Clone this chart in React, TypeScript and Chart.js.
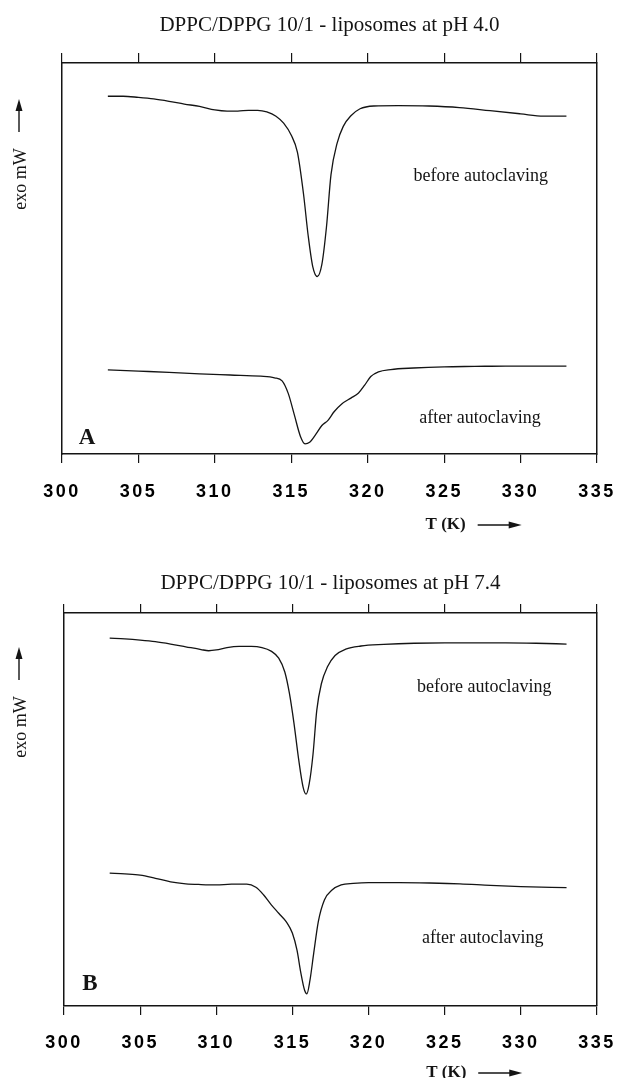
import React, { useEffect, useRef } from 'react';
import { Chart, registerables } from 'chart.js';

Chart.register(...registerables);

// ---------- data ----------
const xTickValues = [300, 305, 310, 315, 320, 325, 330, 335];

const tempBeforePH40 = [303, 304, 305, 306, 307, 308, 309, 310, 310.8, 311.5, 312.2, 312.8, 313.4, 314.0, 314.5, 315.0, 315.4, 315.8, 316.1, 316.4, 316.7, 317.0, 317.3, 317.6, 318.0, 318.4, 318.9, 319.5, 320.4, 322, 324, 326, 328, 330, 331.5, 333];
const heatBeforePH40 = [91.5, 91.5, 91.2, 90.8, 90.2, 89.5, 88.9, 88.0, 87.7, 87.7, 87.9, 87.9, 87.5, 86.4, 84.6, 81.5, 77.2, 66.5, 56, 48, 45.4, 48.5, 58, 71.5, 79.5, 83.8, 86.5, 88.3, 89.0, 89.1, 89.0, 88.6, 87.8, 87.0, 86.4, 86.4];

const tempAfterPH40 = [303, 305, 307, 309, 311, 313, 313.9, 314.4, 314.8, 315.2, 315.6, 315.9, 316.2, 316.6, 317.0, 317.4, 317.8, 318.3, 318.9, 319.4, 319.8, 320.2, 320.7, 321.5, 323, 325, 327, 329, 331, 333];
const heatAfterPH40 = [21.5, 21.2, 20.9, 20.5, 20.2, 19.9, 19.5, 18.7, 15.5, 10.0, 4.5, 2.6, 3.0, 5.0, 7.3, 8.6, 10.8, 12.8, 14.3, 15.6, 17.6, 19.8, 21.0, 21.6, 22.0, 22.3, 22.4, 22.5, 22.5, 22.5];

const tempBeforePH74 = [303, 304, 305, 306, 307, 308, 309, 309.5, 310, 310.7, 311.5, 312.3, 313, 313.6, 314.1, 314.5, 314.8, 315.1, 315.4, 315.7, 315.9, 316.1, 316.35, 316.6, 316.9, 317.3, 317.8, 318.5, 319.5, 321, 323, 325, 327, 329, 331, 333];
const heatBeforePH74 = [93.6, 93.4, 93.1, 92.7, 92.1, 91.4, 90.7, 90.4, 90.6, 91.2, 91.5, 91.5, 91.2, 90.3, 88.5, 85.0, 79.6, 72.0, 63.0, 55.7, 53.9, 56.5, 64.0, 75.3, 82.0, 86.3, 89.2, 90.8, 91.6, 92.0, 92.3, 92.4, 92.4, 92.4, 92.3, 92.1];

const tempAfterPH74 = [303, 304, 305, 306, 307, 308, 309, 310, 311, 312, 312.6, 313.1, 313.6, 314.1, 314.6, 315.0, 315.3, 315.55, 315.8, 315.95, 316.15, 316.4, 316.7, 317.1, 317.6, 318.2, 319, 320, 322, 324, 326, 328, 330, 333];
const heatAfterPH74 = [33.8, 33.6, 33.3, 32.5, 31.6, 31.1, 30.9, 30.8, 31.0, 31.0, 30.2, 28.3, 25.8, 23.6, 21.4, 18.5, 14.2, 8.5, 4.0, 3.1, 6.5, 13.5, 21.5, 27.0, 29.5, 30.8, 31.2, 31.4, 31.4, 31.3, 31.1, 30.7, 30.4, 30.1];

const panelTitles = ['DPPC/DPPG 10/1 - liposomes at pH 4.0', 'DPPC/DPPG 10/1 - liposomes at pH 7.4'];
const curveLabels = ['before autoclaving', 'after autoclaving'];
const panelLetters = ['A', 'B'];
const yAxisTitle = 'exo mW';
const xAxisTitle = 'T (K)';

// ---------- layout / style ----------
const INK = '#141414';
const SERIF = '"Liberation Serif", "Times New Roman", serif';
const SANS = '"Liberation Sans", Arial, sans-serif';

type Panel = {
  top: number;
  height: number;
  title: string;
  letter: string;
  series: { t: number[]; v: number[] }[];
  labelPos: { x: number; y: number }[];
  letterPos: { x: number; y: number };
  padding: { left: number; right: number; top: number; bottom: number };
  titlePad: { top: number; bottom: number };
  tickLineHeight: number;
  topTickLen: number;
  yTitleOffset: number;
  yArrowTail: number;
  yArrowTip: number;
  xTitleOffset: number;
};

const panels: Panel[] = [
  {
    top: 0,
    height: 548,
    title: panelTitles[0],
    letter: panelLetters[0],
    series: [
      { t: tempBeforePH40, v: heatBeforePH40 },
      { t: tempAfterPH40, v: heatAfterPH40 },
    ],
    labelPos: [{ x: 327.4, y: 71.0 }, { x: 327.35, y: 9.2 }],
    letterPos: { x: 301.1, y: 2.6 },
    padding: { left: 62, right: 21, top: 0, bottom: 27 },
    titlePad: { top: 13, bottom: 16 },
    tickLineHeight: 3.0,
    topTickLen: 10,
    yTitleOffset: 116,
    yArrowTail: 69,
    yArrowTip: 36,
    xTitleOffset: 71,
  },
  {
    top: 548,
    height: 530,
    title: panelTitles[1],
    letter: panelLetters[1],
    series: [
      { t: tempBeforePH74, v: heatBeforePH74 },
      { t: tempAfterPH74, v: heatAfterPH74 },
    ],
    labelPos: [{ x: 327.6, y: 81.2 }, { x: 327.5, y: 17.3 }],
    letterPos: { x: 301.2, y: 4.1 },
    padding: { left: 64, right: 21, top: 0, bottom: 7 },
    titlePad: { top: 23, bottom: 9 },
    tickLineHeight: 2.889,
    topTickLen: 9,
    yTitleOffset: 114,
    yArrowTail: 67,
    yArrowTip: 34,
    xTitleOffset: 67,
  },
];

function drawHArrow(ctx: CanvasRenderingContext2D, x1: number, x2: number, y: number) {
  const head = 13;
  ctx.beginPath();
  ctx.moveTo(x1, y);
  ctx.lineTo(x2 - head + 2, y);
  ctx.lineWidth = 1.4;
  ctx.stroke();
  ctx.beginPath();
  ctx.moveTo(x2, y);
  ctx.lineTo(x2 - head, y - 3.5);
  ctx.lineTo(x2 - head, y + 3.5);
  ctx.closePath();
  ctx.fill();
}

function drawVArrow(ctx: CanvasRenderingContext2D, x: number, yTail: number, yTip: number) {
  const head = 12;
  ctx.beginPath();
  ctx.moveTo(x, yTail);
  ctx.lineTo(x, yTip + head - 2);
  ctx.lineWidth = 1.4;
  ctx.stroke();
  ctx.beginPath();
  ctx.moveTo(x, yTip);
  ctx.lineTo(x - 3.5, yTip + head);
  ctx.lineTo(x + 3.5, yTip + head);
  ctx.closePath();
  ctx.fill();
}

function makeDecor(panel: Panel) {
  return {
    id: 'decor',
    beforeDraw(chart: any) {
      (chart.ctx as any).letterSpacing = '0px';
    },
    afterDatasetsDraw(chart: any) {
      (chart.ctx as any).letterSpacing = '2.5px';
    },
    afterDraw(chart: any) {
      const ctx: CanvasRenderingContext2D = chart.ctx;
      (ctx as any).letterSpacing = '0px';
      const xs = chart.scales.x;
      const ys = chart.scales.y;
      const area = chart.chartArea;
      ctx.save();
      ctx.fillStyle = INK;
      ctx.strokeStyle = INK;

      // curve labels
      ctx.font = `18px ${SERIF}`;
      ctx.textAlign = 'center';
      ctx.textBaseline = 'middle';
      panel.labelPos.forEach((p, i) => {
        ctx.fillText(curveLabels[i], xs.getPixelForValue(p.x), ys.getPixelForValue(p.y));
      });

      // panel letter
      ctx.font = `bold 23px ${SERIF}`;
      ctx.textAlign = 'left';
      ctx.textBaseline = 'alphabetic';
      ctx.fillText(panel.letter, xs.getPixelForValue(panel.letterPos.x), ys.getPixelForValue(panel.letterPos.y));

      // x axis title with arrow
      const xy = area.bottom + panel.xTitleOffset;
      ctx.font = `bold 17px ${SERIF}`;
      ctx.textAlign = 'center';
      ctx.textBaseline = 'middle';
      const tx = xs.getPixelForValue(325.1);
      ctx.fillText(xAxisTitle, tx, xy);
      drawHArrow(ctx, tx + 32, tx + 76, xy);

      // y axis title with arrow
      const yx = 21;
      ctx.save();
      ctx.translate(yx, area.top + panel.yTitleOffset);
      ctx.rotate(-Math.PI / 2);
      ctx.font = `18px ${SERIF}`;
      ctx.textAlign = 'center';
      ctx.textBaseline = 'middle';
      ctx.fillText(yAxisTitle, 0, 0);
      ctx.restore();
      drawVArrow(ctx, 19, area.top + panel.yArrowTail, area.top + panel.yArrowTip);

      ctx.restore();
    },
  };
}

function PanelChart({ panel }: { panel: Panel }) {
  const ref = useRef<HTMLCanvasElement | null>(null);

  useEffect(() => {
    if (!ref.current) return;
    const setTicks = (scale: any) => {
      scale.ticks = xTickValues.map((v) => ({ value: v }));
    };
    const chart = new Chart(ref.current, {
      type: 'line',
      data: {
        datasets: panel.series.map((s, i) => ({
          label: curveLabels[i],
          data: s.t.map((t, j) => ({ x: t, y: s.v[j] })),
          borderColor: INK,
          borderWidth: 1.3,
          pointRadius: 0,
          fill: false,
          cubicInterpolationMode: 'monotone' as const,
        })),
      },
      options: {
        responsive: false,
        animation: false,
        devicePixelRatio: 1,
        events: [],
        layout: { padding: panel.padding },
        plugins: {
          legend: { display: false },
          tooltip: { enabled: false },
          title: {
            display: true,
            text: panel.title,
            color: INK,
            font: { family: SERIF, size: 21, weight: 'normal', lineHeight: 24 / 21 },
            padding: panel.titlePad,
          },
        },
        scales: {
          x: {
            type: 'linear',
            position: 'bottom',
            min: 300,
            max: 335,
            afterBuildTicks: setTicks,
            grid: {
              display: true,
              drawOnChartArea: false,
              drawTicks: true,
              tickLength: 9,
              color: INK,
              lineWidth: 1.2,
            },
            border: { display: true, color: INK, width: 1.5 },
            ticks: {
              color: '#000',
              padding: 2,
              maxRotation: 0,
              autoSkip: false,
              z: 1,
              font: { family: SANS, size: 18, weight: 'bold', lineHeight: panel.tickLineHeight },
              callback: (v: any) => String(v),
            },
          },
          x2: {
            type: 'linear',
            position: 'top',
            min: 300,
            max: 335,
            afterBuildTicks: setTicks,
            grid: {
              display: true,
              drawOnChartArea: false,
              drawTicks: true,
              tickLength: panel.topTickLen,
              color: INK,
              lineWidth: 1.2,
            },
            border: { display: true, color: INK, width: 1.5 },
            ticks: { display: false },
          },
          y: {
            type: 'linear',
            position: 'left',
            min: 0,
            max: 100,
            grid: { display: false, drawTicks: false },
            border: { display: true, color: INK, width: 1.5 },
            ticks: { display: false },
          },
          y2: {
            type: 'linear',
            position: 'right',
            min: 0,
            max: 100,
            grid: { display: false, drawTicks: false },
            border: { display: true, color: INK, width: 1.5 },
            ticks: { display: false },
          },
        },
      } as any,
      plugins: [makeDecor(panel)],
    });
    return () => chart.destroy();
  }, [panel]);

  return (
    <canvas
      ref={ref}
      width={618}
      height={panel.height}
      style={{ position: 'absolute', left: 0, top: panel.top, width: 618, height: panel.height }}
    />
  );
}

export default function App() {
  return (
    <div
      style={{
        position: 'absolute',
        left: 0,
        top: 0,
        width: 618,
        height: 1078,
        background: '#fff',
        overflow: 'hidden',
      }}
    >
      {panels.map((p, i) => (
        <PanelChart key={i} panel={p} />
      ))}
    </div>
  );
}
